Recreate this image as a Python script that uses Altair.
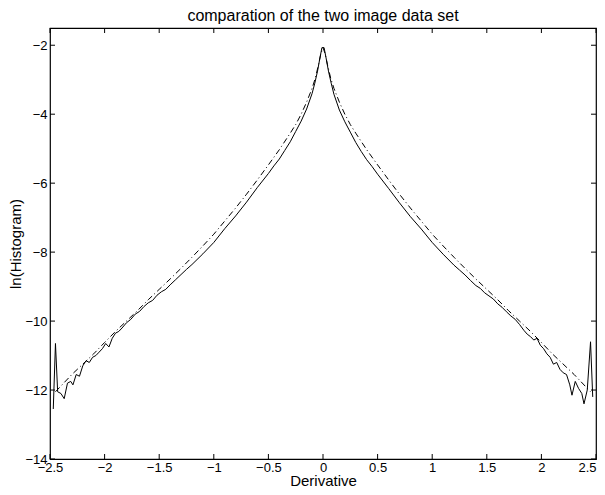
import altair as alt
import pandas as pd

x_solid = [-2.47, -2.45, -2.43, -2.40, -2.37, -2.34, -2.31, -2.29, -2.26, -2.23,
           -2.20, -2.17, -2.14, -2.11, -2.08, -2.05, -2.02, -1.99, -1.96, -1.93,
           -1.90, -1.87, -1.84, -1.80, -1.76, -1.72, -1.68, -1.64, -1.60, -1.56,
           -1.52, -1.48, -1.44, -1.40, -1.35, -1.30, -1.25, -1.20, -1.10, -1.00,
           -0.90, -0.80, -0.70, -0.60, -0.50, -0.45, -0.40, -0.35, -0.30, -0.25,
           -0.20, -0.15, -0.10, -0.075, -0.05, -0.03, -0.01,
           0.01, 0.03, 0.05, 0.075, 0.10, 0.15, 0.20, 0.25, 0.30, 0.35,
           0.40, 0.45, 0.50, 0.60, 0.70, 0.80, 0.90, 1.00, 1.10, 1.20,
           1.25, 1.30, 1.35, 1.40, 1.44, 1.48, 1.52, 1.56, 1.60, 1.64,
           1.68, 1.72, 1.76, 1.80, 1.84, 1.87, 1.90, 1.93, 1.96, 1.99,
           2.02, 2.05, 2.08, 2.11, 2.14, 2.17, 2.20, 2.23, 2.26, 2.28,
           2.31, 2.34, 2.37, 2.39, 2.42, 2.45, 2.47]
y_solid = [-12.55, -10.65, -12.05, -12.10, -12.25, -11.80, -11.75, -11.85, -11.55, -11.60,
           -11.30, -11.15, -11.20, -11.05, -11.00, -10.90, -10.80, -10.65, -10.75, -10.50,
           -10.35, -10.30, -10.20, -10.05, -9.95, -9.80, -9.72, -9.58, -9.47, -9.40,
           -9.25, -9.15, -9.08, -8.95, -8.80, -8.65, -8.50, -8.36, -8.05, -7.72,
           -7.32, -6.95, -6.55, -6.12, -5.72, -5.50, -5.30, -5.05, -4.80, -4.50,
           -4.20, -3.85, -3.40, -3.10, -2.75, -2.40, -2.07,
           -2.07, -2.40, -2.75, -3.10, -3.42, -3.88, -4.22, -4.52, -4.82, -5.08,
           -5.32, -5.52, -5.74, -6.15, -6.57, -6.97, -7.33, -7.72, -8.06, -8.38,
           -8.52, -8.66, -8.82, -8.97, -9.05, -9.18, -9.27, -9.36, -9.50, -9.60,
           -9.73, -9.85, -9.95, -10.10, -10.27, -10.38, -10.45, -10.55, -10.50, -10.70,
           -10.80, -10.95, -11.05, -11.25, -11.20, -11.40, -11.50, -11.55, -11.85, -12.15,
           -11.75, -11.95, -12.10, -12.40, -12.00, -10.60, -12.20]

# Dash-dot line: fitted model
x_fit = [-2.45, -2.30, -2.10, -2.00, -1.90, -1.80, -1.70, -1.60, -1.50, -1.40,
         -1.30, -1.20, -1.10, -1.00, -0.90, -0.80, -0.70, -0.60, -0.50, -0.40,
         -0.30, -0.25, -0.20, -0.15, -0.10, -0.07, -0.04, -0.02, 0.00,
         0.02, 0.04, 0.07, 0.10, 0.15, 0.20, 0.25, 0.30, 0.40, 0.50,
         0.60, 0.70, 0.80, 0.90, 1.00, 1.10, 1.20, 1.30, 1.40, 1.50,
         1.60, 1.70, 1.80, 1.90, 2.00, 2.10, 2.30, 2.45]
y_fit = [-12.05, -11.55, -10.95, -10.62, -10.30, -10.00, -9.70, -9.38, -9.08, -8.78,
         -8.47, -8.15, -7.82, -7.48, -7.10, -6.72, -6.32, -5.90, -5.47, -5.03,
         -4.55, -4.30, -4.00, -3.65, -3.25, -2.95, -2.55, -2.25, -2.07,
         -2.25, -2.55, -2.95, -3.25, -3.65, -4.00, -4.30, -4.55, -5.03, -5.47,
         -5.90, -6.32, -6.72, -7.10, -7.48, -7.82, -8.15, -8.47, -8.78, -9.08,
         -9.38, -9.70, -10.00, -10.30, -10.62, -10.95, -11.55, -12.05]

x_ticks = [-2.5, -2, -1.5, -1, -0.5, 0, 0.5, 1, 1.5, 2, 2.5]
y_ticks = [-14, -12, -10, -8, -6, -4, -2]

W, H = 546, 431
FONT = "Liberation Sans"

xs = alt.Scale(domain=[-2.5, 2.5], nice=False, zero=False)
ys = alt.Scale(domain=[-14, -1.5], nice=False, zero=False)

x_axis = alt.Axis(values=x_ticks, format=".2~f", tickSize=0, grid=False,
                  domain=False, labelPadding=2, labelFlush=False,
                  labelAlign={"condition": {"test": "datum.value >= 2.5", "value": "right"},
                              "value": "center"},
                  titleY=26, titleBaseline="alphabetic",
                  labelFontSize=13, titleFontSize=15,
                  labelColor="black", titleColor="black",
                  titleFontWeight="normal", labelFont=FONT, titleFont=FONT)
y_axis = alt.Axis(values=y_ticks, format="d", tickSize=0, grid=False,
                  domain=False, labelPadding=3, labelFlush=False,
                  titleX=-30, titleBaseline="alphabetic",
                  labelFontSize=13, titleFontSize=15,
                  labelColor="black", titleColor="black",
                  titleFontWeight="normal", labelFont=FONT, titleFont=FONT)
X_TITLE = "Derivative"
Y_TITLE = "ln(Histogram)"

df_solid = pd.DataFrame({"x": x_solid, "y": y_solid})
df_fit = pd.DataFrame({"x": x_fit, "y": y_fit})
df_xt = pd.DataFrame({"x": x_ticks})
df_yt = pd.DataFrame({"y": y_ticks})

solid = alt.Chart(df_solid).mark_line(color="black", strokeWidth=1).encode(
    x=alt.X("x:Q", scale=xs, title=X_TITLE, axis=x_axis),
    y=alt.Y("y:Q", scale=ys, title=Y_TITLE, axis=y_axis),
    order="x:Q",
)

fit = alt.Chart(df_fit).mark_line(color="black", strokeWidth=1, strokeDash=[6, 3, 1, 3]).encode(
    x=alt.X("x:Q", scale=xs, title=X_TITLE, axis=x_axis),
    y=alt.Y("y:Q", scale=ys, title=Y_TITLE, axis=y_axis),
    order="x:Q",
)

tick_len = 5
xt_bottom = alt.Chart(df_xt).mark_rule(color="black", strokeWidth=1).encode(
    x=alt.X("x:Q", scale=xs, title=X_TITLE, axis=x_axis),
    y=alt.value(H - tick_len), y2=alt.value(H))
xt_top = alt.Chart(df_xt).mark_rule(color="black", strokeWidth=1).encode(
    x=alt.X("x:Q", scale=xs, title=X_TITLE, axis=x_axis),
    y=alt.value(0), y2=alt.value(tick_len))
yt_left = alt.Chart(df_yt).mark_rule(color="black", strokeWidth=1).encode(
    y=alt.Y("y:Q", scale=ys, title=Y_TITLE, axis=y_axis),
    x=alt.value(0), x2=alt.value(tick_len))
yt_right = alt.Chart(df_yt).mark_rule(color="black", strokeWidth=1).encode(
    y=alt.Y("y:Q", scale=ys, title=Y_TITLE, axis=y_axis),
    x=alt.value(W - tick_len), x2=alt.value(W))

chart = alt.layer(solid, fit, xt_bottom, xt_top, yt_left, yt_right).properties(
    width=W, height=H,
    background="white",
    title=alt.TitleParams("comparation of the two image data set", font=FONT,
                          fontSize=16, fontWeight="normal", color="black", offset=4,
                          anchor="middle"),
    autosize=alt.AutoSizeParams(type="none"),
    padding={"left": 42, "top": 20, "right": 1, "bottom": 28},
).configure_view(stroke="black", strokeWidth=1.2)

chart.save("out.html", embed_options={"renderer": "svg", "actions": False})
